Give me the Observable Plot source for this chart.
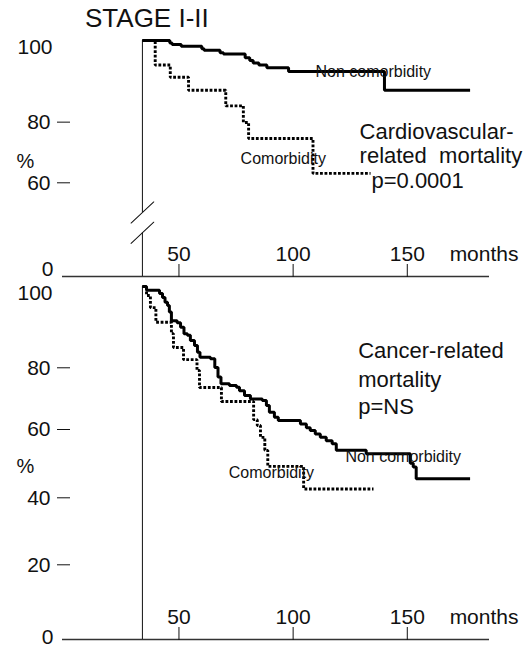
<!DOCTYPE html>
<html>
<head>
<meta charset="utf-8">
<script src="https://cdn.jsdelivr.net/npm/d3@7"></script>
<script src="https://cdn.jsdelivr.net/npm/@observablehq/plot@0.6"></script>
<style>
  body { margin: 0; background: #fff; }
  #chart { width: 531px; font-family: "Liberation Sans", Arial, Helvetica, sans-serif; color: #111; }
  #title { height: 34px; box-sizing: border-box; padding: 1px 0 0 85px; font-size: 26px; line-height: 34px; }
</style>
</head>
<body>
<div id="chart">
  <div id="title">STAGE I-II</div>
</div>
<script>
// ---------- data ----------
const xTicks = [50, 100, 150];
const xLabel = "months";

// Cardiovascular-related mortality (top panel)
const cvNonMonths = [34, 46, 47, 51, 60, 61, 68, 69.5, 79, 81, 82.5, 85, 88.5, 98, 140, 177.5];
const cvNonPct    = [100, 99.4, 99.0, 98.6, 98.0, 97.6, 97.0, 96.7, 95.8, 95.1, 94.5, 94.0, 93.3, 92.4, 87.8, 87.8];
const cvComMonths = [34, 39.6, 46.2, 54.2, 70.5, 78.2, 80.5, 108.7, 133.9];
const cvComPct    = [100, 94.0, 91.0, 87.8, 84.0, 79.9, 74.6, 63.1, 63.1];
const cvYTicks = [60, 80];
const cvAxisBreak = [41, 28];
const cvCurveLabels = [
  {text: "Non comorbidity", month: 109.8, pct: 92.2},
  {text: "Comorbidity", month: 77, pct: 67.9}
];
const cvNote = [
  {text: "Cardiovascular-", month: 129.1, pct: 74.3},
  {text: "related\u00a0\u00a0mortality", month: 129.1, pct: 66.4},
  {text: "p=0.0001", month: 134.3, pct: 56.5}
];
// the printed y axis is not evenly spaced: calibration knots (percent -> share of axis height)
const cvAxisPct   = [0, 60, 80, 100];
const cvAxisShare = [0, 39.7, 65.4, 100];

// Cancer-related mortality (bottom panel)
const caNonMonths = [34, 35.8, 41.5, 42.8, 43.9, 45.0, 45.8, 46.7, 49.2, 50.7, 52.2, 53.7, 55.0, 56.8, 58.1, 59.2, 63.8, 65.7, 67.1, 68.4, 72.1, 75.2, 76.5, 78.7, 81.3, 86.5, 88.3, 89.6, 91.8, 93.5, 103.2, 105.8, 107.5, 109.7, 111.9, 114.5, 117.1, 118.9, 132.0, 151.3, 152.6, 153.9, 177.5];
const caNonPct    = [100, 99.1, 98.3, 97.3, 96.1, 95.3, 93.7, 91.6, 91.1, 90.0, 88.4, 88.0, 86.7, 85.5, 83.8, 82.6, 82.2, 80.1, 77.0, 74.8, 74.3, 73.7, 72.6, 71.0, 69.9, 69.4, 67.8, 65.6, 64.0, 62.9, 61.8, 60.6, 59.7, 58.7, 57.7, 56.7, 55.8, 53.9, 52.9, 50.1, 49.0, 45.6, 45.6];
const caComMonths = [34, 35.8, 37.5, 39.9, 46.7, 47.6, 52.0, 57.9, 59.0, 68.6, 82.7, 84.3, 85.7, 87.6, 88.9, 104.6, 135.2];
const caComPct    = [100, 97.8, 94.8, 91.2, 88.4, 85.0, 82.0, 79.1, 73.6, 69.1, 63.2, 61.3, 57.7, 53.9, 49.2, 42.6, 42.6];
const caYTicks = [20, 40, 60, 80];
const caCurveLabels = [
  {text: "Non comorbidity", month: 122.9, pct: 52.1},
  {text: "Comorbidity", month: 71.8, pct: 47.4}
];
const caNote = [
  {text: "Cancer-related", month: 128.5, pct: 82.4},
  {text: "mortality", month: 128.5, pct: 73.9},
  {text: "p=NS", month: 128.5, pct: 64.9}
];
const caAxisPct   = [0, 20, 40, 60, 80, 100];
const caAxisShare = [0, 21.16, 40.14, 59.49, 76.97, 100];

// ---------- drawing ----------
const rows = (m, p) => m.map((d, i) => ({month: d, pct: p[i]}));
const font = "'Liberation Sans', Arial, Helvetica, sans-serif";
const ink = "#111";
const slash = {draw(ctx, l) { ctx.moveTo(0, 0); ctx.lineTo(0, -l); }};

function panel({height, marginBottom, axisPct, axisShare, yTicks, non, com, curveLabels, note, pctAt, zeroDy, axisBreak}) {
  const warp = d3.scaleLinear().domain(axisPct).range(axisShare);
  const start = non[0].month;
  const vSegments = axisBreak
    ? [{y1: 100, y2: axisBreak[0]}, {y1: axisBreak[1], y2: 0}]
    : [{y1: 100, y2: 0}];
  const fmt = v => String(Math.round(warp.invert(v)));
  const marks = [
    Plot.ruleY([warp(0)], {stroke: "#333", strokeWidth: 1.5}),
    Plot.ruleX(vSegments, {x: () => start, y1: d => warp(d.y1), y2: d => warp(d.y2), stroke: ink, strokeWidth: 1}),
    Plot.axisX({ticks: xTicks, anchor: "top", frameAnchor: "bottom", tickSize: 13, tickPadding: 3, fontSize: 21, label: null, stroke: ink, fill: ink}),
    Plot.text([xLabel], {text: d => d, frameAnchor: "bottom-right", textAnchor: "end", lineAnchor: "bottom", dx: 29, dy: -16, fontSize: 21, fill: ink}),
    Plot.axisY({ticks: yTicks.map(warp), tickFormat: fmt, tickSize: 13, tickPadding: 7, dx: 8, fontSize: 21, label: null, stroke: ink, fill: ink}),
    Plot.axisY({ticks: [warp(100)], tickFormat: fmt, tickSize: 0, tickPadding: 10, dy: 7, fontSize: 21, label: null, fill: ink}),
    Plot.axisY({ticks: [warp(0)], tickFormat: fmt, tickSize: 0, tickPadding: 9, dy: zeroDy, fontSize: 21, label: null, fill: ink}),
    Plot.text(["%"], {text: d => d, y: () => warp(pctAt), frameAnchor: "left", textAnchor: "start", dx: -46, fontSize: 20, fill: ink}),
    Plot.line(com, {x: "month", y: d => warp(d.pct), curve: "step-after", stroke: "#000", strokeWidth: 2.9, strokeLinecap: "butt", strokeLinejoin: "miter", strokeDasharray: "2.8,1.7"}),
    Plot.line(non, {x: "month", y: d => warp(d.pct), curve: "step-after", stroke: "#000", strokeWidth: 3, strokeLinecap: "butt", strokeLinejoin: "miter"}),
    Plot.text(curveLabels, {x: "month", y: d => warp(d.pct), text: "text", textAnchor: "start", fontSize: 16, fill: ink}),
    Plot.text(note, {x: "month", y: d => warp(d.pct), text: "text", textAnchor: "start", lineAnchor: "bottom", fontSize: 22, fill: ink})
  ];
  if (axisBreak) {
    marks.push(Plot.vector(axisBreak, {x: () => start, y: d => warp(d), length: 31, rotate: 47, anchor: "middle", shape: slash, stroke: ink, strokeWidth: 1}));
  }
  return Plot.plot({
    width: 531,
    height,
    marginLeft: 62,
    marginRight: 42,
    marginTop: 6,
    marginBottom,
    style: {fontFamily: font, color: ink, background: "transparent", overflow: "visible"},
    x: {domain: [-1, 186]},
    y: {domain: [0, 100]},
    marks
  });
}

const chartEl = document.getElementById("chart");

chartEl.appendChild(panel({
  height: 246,
  marginBottom: 4,
  axisPct: cvAxisPct,
  axisShare: cvAxisShare,
  yTicks: cvYTicks,
  non: rows(cvNonMonths, cvNonPct),
  com: rows(cvComMonths, cvComPct),
  curveLabels: cvCurveLabels,
  note: cvNote,
  pctAt: 66.9,
  zeroDy: -7,
  axisBreak: cvAxisBreak
}));

chartEl.appendChild(panel({
  height: 369,
  marginBottom: 10,
  axisPct: caAxisPct,
  axisShare: caAxisShare,
  yTicks: caYTicks,
  non: rows(caNonMonths, caNonPct),
  com: rows(caComMonths, caComPct),
  curveLabels: caCurveLabels,
  note: caNote,
  pctAt: 49,
  zeroDy: -2,
  axisBreak: null
}));
</script>
</body>
</html>
